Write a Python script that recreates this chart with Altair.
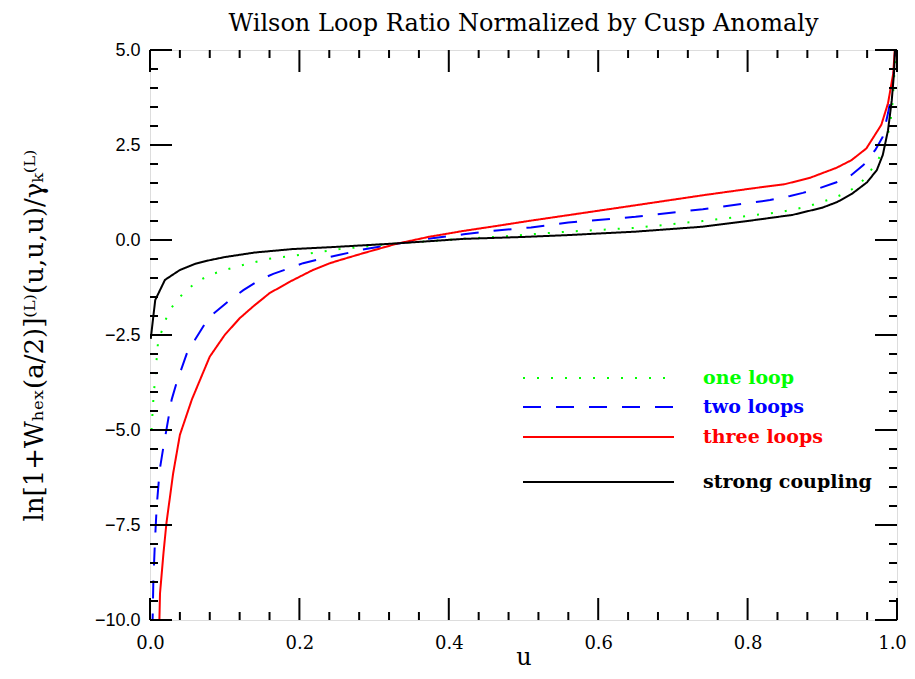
import altair as alt
import pandas as pd

# ---------------- data ----------------
u_one = [0.002, 0.0045, 0.011, 0.018, 0.024, 0.036, 0.049, 0.063, 0.08, 0.1, 0.12, 0.157, 0.19,
         0.23, 0.254, 0.33, 0.41, 0.47, 0.53, 0.56, 0.65, 0.74, 0.82, 0.843, 0.88, 0.915, 0.935,
         0.951, 0.964, 0.977, 0.985, 0.991, 0.994, 0.997, 0.9985]
y_one = [-5.0, -4.2, -2.63, -2.29, -1.92, -1.58, -1.32, -1.1, -0.92, -0.79, -0.68, -0.5, -0.42,
         -0.31, -0.24, -0.09, 0.02, 0.09, 0.18, 0.22, 0.32, 0.5, 0.68, 0.73, 0.88, 1.1, 1.27,
         1.49, 1.8, 2.19, 2.54, 3.07, 3.6, 4.56, 5.3]

u_two = [0.003, 0.0036, 0.0045, 0.0067, 0.009, 0.013, 0.018, 0.029, 0.036, 0.051, 0.06, 0.074,
         0.083, 0.107, 0.125, 0.147, 0.165, 0.187, 0.205, 0.232, 0.254, 0.285, 0.33, 0.375, 0.42,
         0.464, 0.51, 0.56, 0.65, 0.74, 0.83, 0.857, 0.874, 0.897, 0.919, 0.939, 0.955, 0.971,
         0.981, 0.988, 0.993, 0.997, 0.9985]
y_two = [-10.3, -9.9, -8.95, -7.9, -7.0, -6.05, -5.44, -4.2, -3.73, -2.89, -2.63, -2.19,
         -1.97, -1.58, -1.32, -1.05, -0.89, -0.74, -0.61, -0.48, -0.39, -0.25, -0.1, 0.04, 0.15,
         0.25, 0.33, 0.46, 0.61, 0.81, 1.05, 1.16, 1.24, 1.37, 1.52, 1.71, 1.97, 2.37,
         2.72, 3.34, 3.86, 4.82, 5.3]

u_three = [0.012, 0.0134, 0.018, 0.022, 0.031, 0.04, 0.056, 0.067, 0.08, 0.1, 0.12, 0.138, 0.16,
           0.187, 0.218, 0.241, 0.254, 0.285, 0.33, 0.375, 0.42, 0.464, 0.51, 0.562, 0.652, 0.741,
           0.807, 0.85, 0.884, 0.919, 0.939, 0.959, 0.979, 0.988, 0.995, 0.998]
y_three = [-10.5, -9.3, -8.25, -7.45, -6.14, -5.13, -4.2, -3.68, -3.07, -2.5, -2.06, -1.75, -1.4,
           -1.1, -0.79, -0.61, -0.53, -0.35, -0.1, 0.09, 0.24, 0.37, 0.51, 0.66, 0.92, 1.18,
           1.36, 1.47, 1.64, 1.9, 2.1, 2.41, 3.03, 3.6, 4.39, 5.3]

u_strong = [0.001, 0.007, 0.02, 0.04, 0.06, 0.08, 0.1, 0.14, 0.19, 0.25, 0.33, 0.42, 0.5, 0.56,
            0.65, 0.74, 0.8, 0.86, 0.9, 0.92, 0.94, 0.96, 0.973, 0.981, 0.988, 0.993, 0.996, 0.998]
y_strong = [-2.6, -1.58, -1.05, -0.79, -0.63, -0.53, -0.45, -0.33, -0.24, -0.18, -0.09, 0.03,
            0.08, 0.13, 0.22, 0.35, 0.5, 0.66, 0.85, 1.0, 1.22, 1.52, 1.84, 2.24, 2.89, 3.68,
            4.39, 5.3]

series_names = ["one loop", "two loops", "three loops", "strong coupling"]
series_colors = ["#00ff00", "#0000ff", "#ff0000", "#000000"]
series_dash = [[2, 12], [18, 15], [1, 0], [1, 0]]
series_u = [u_one, u_two, u_three, u_strong]
series_y = [y_one, y_two, y_three, y_strong]

x_major = [0.0, 0.2, 0.4, 0.6, 0.8, 1.0]
x_minor = [0.04, 0.08, 0.12, 0.16, 0.24, 0.28, 0.32, 0.36, 0.44, 0.48, 0.52, 0.56,
           0.64, 0.68, 0.72, 0.76, 0.84, 0.88, 0.92, 0.96]
y_major = [-10.0, -7.5, -5.0, -2.5, 0.0, 2.5, 5.0]
y_minor = [-9.5, -9.0, -8.5, -8.0, -7.0, -6.5, -6.0, -5.5, -4.5, -4.0, -3.5, -3.0,
           -2.0, -1.5, -1.0, -0.5, 0.5, 1.0, 1.5, 2.0, 3.0, 3.5, 4.0, 4.5]

# ---------------- layout ----------------
W, H = 747, 570
MAJ, MIN = 22, 8
xs = alt.Scale(domain=[0, 1], nice=False, zero=False)
ys = alt.Scale(domain=[-10, 5], nice=False, zero=False)
SERIF = "DejaVu Serif"

ytitle = "ln[1+W\u2095\u2091\u2093(a/2)]\u207d\u1d38\u207e(u,u,u)/\u03b3\u2096\u207d\u1d38\u207e"

base_x = alt.X("u:Q", scale=xs,
               axis=alt.Axis(values=x_major, format=".1f", ticks=False, domain=False, grid=False,
                             labelFlush=False, labelFont=SERIF, labelFontSize=18,
                             labelOffset={"condition": {"test": "datum.value >= 1", "value": -5},
                                          "value": 0},
                             labelPadding=14, labelColor="black", title="u", titleFont=SERIF,
                             titleFontSize=24, titleFontWeight="normal", titleY=44,
                             titleBaseline="alphabetic", titleColor="black"))
base_y = alt.Y("v:Q", scale=ys,
               axis=alt.Axis(values=y_major, format=".1f", ticks=False, domain=False, grid=False,
                             labelFlush=False, labelFont="Liberation Sans", labelFontSize=18,
                             labelPadding=10, labelColor="black", title=ytitle,
                             titleFont=SERIF, titleFontSize=26, titleFontWeight="normal",
                             titlePadding=47, titleColor="black"))

layers = []
for name, col, dash, uu, vv in zip(series_names, series_colors, series_dash, series_u, series_y):
    df = pd.DataFrame({"u": uu, "v": vv})
    layers.append(
        alt.Chart(df).mark_line(color=col, strokeDash=dash, strokeWidth=2, clip=True)
        .encode(x=base_x, y=base_y)
    )

# inward ticks on all four sides
def xticks(vals, y0, y1):
    return alt.Chart(pd.DataFrame({"u": vals})).mark_rule(color="black", strokeWidth=2).encode(
        x=alt.X("u:Q", scale=xs), y=alt.value(y0), y2=alt.value(y1))

def yticks(vals, x0, x1):
    return alt.Chart(pd.DataFrame({"v": vals})).mark_rule(color="black", strokeWidth=2).encode(
        y=alt.Y("v:Q", scale=ys), x=alt.value(x0), x2=alt.value(x1))

layers += [xticks(x_major, H, H - MAJ), xticks(x_minor, H, H - MIN),
           xticks(x_major, 0, MAJ), xticks(x_minor, 0, MIN),
           yticks(y_major, 0, MAJ), yticks(y_minor, 0, MIN),
           yticks(y_major, W, W - MAJ), yticks(y_minor, W, W - MIN)]

# manual legend inside the plot
leg_y = [328, 357, 387, 432]
for name, col, dash, ly in zip(series_names, series_colors, series_dash, leg_y):
    layers.append(
        alt.Chart(pd.DataFrame({"label": [name]})).mark_rule(
            color=col, strokeDash=dash, strokeWidth=2
        ).encode(x=alt.value(373), x2=alt.value(524), y=alt.value(ly))
    )
    layers.append(
        alt.Chart(pd.DataFrame({"label": [name]})).mark_text(
            color=col, align="left", baseline="middle", font=SERIF, fontSize=19,
            fontWeight="bold"
        ).encode(x=alt.value(553), y=alt.value(ly), text="label:N")
    )

chart = alt.layer(*layers).properties(
    width=W, height=H,
    title=alt.TitleParams("Wilson Loop Ratio Normalized by Cusp Anomaly", font=SERIF,
                          fontSize=24, fontWeight="normal", color="black", offset=5),
    padding={"left": 142, "top": 42, "right": 10, "bottom": 51},
    autosize="none",
).configure_view(stroke="black", strokeWidth=2).configure(background="white")

chart.save("out.html", embed_options={"renderer": "svg", "actions": False})
